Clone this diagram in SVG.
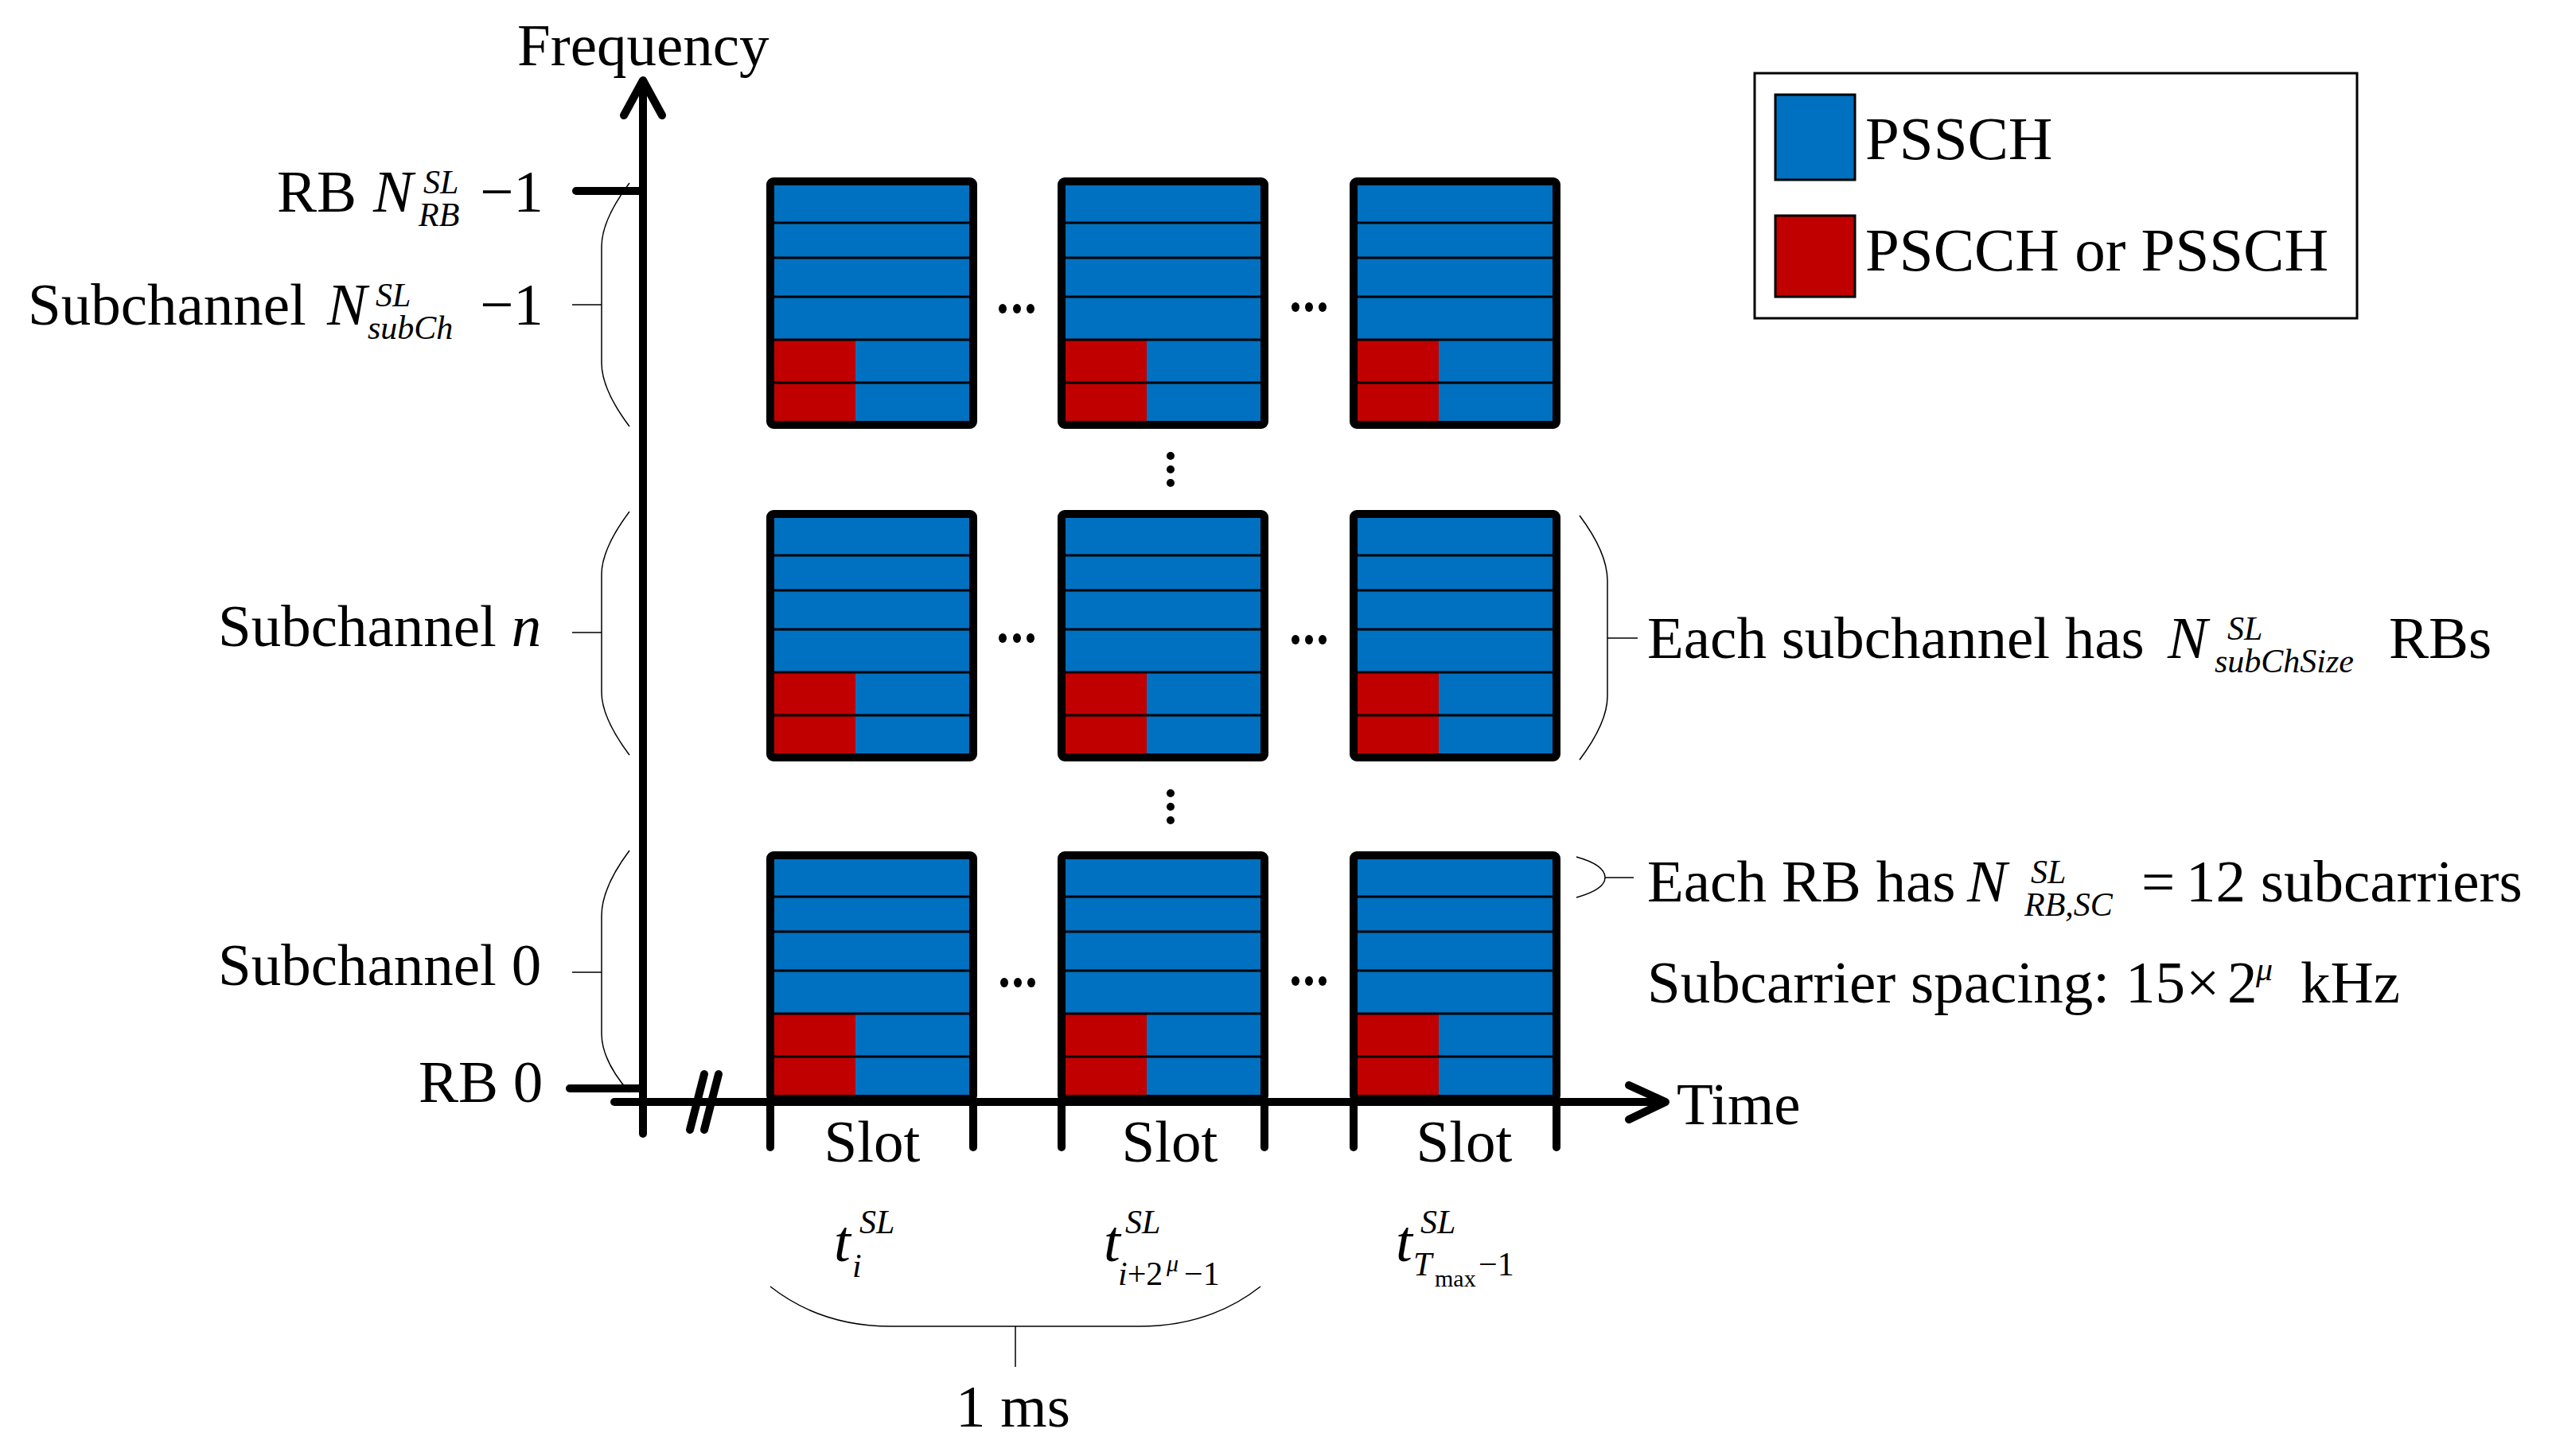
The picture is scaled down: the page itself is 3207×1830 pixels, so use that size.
<svg xmlns="http://www.w3.org/2000/svg" xmlns:xlink="http://www.w3.org/1999/xlink" width="3207" height="1830" viewBox="0 0 3207 1830">
<style>
.t{font-family:"Liberation Serif","Times New Roman",serif;font-size:75px;fill:#000}
.lg{font-size:77px}
.i{font-style:italic}
.s{font-size:42px}
.xs{font-size:30px}
.blue{fill:#0070C0}
.red{fill:#C00000}
.ax{stroke:#000;stroke-width:10;fill:none;stroke-linecap:round;stroke-linejoin:round}
.br{stroke:#000;stroke-width:1.5;fill:none}
.dot{fill:#000}
</style>
<defs>
<g id="box">
<rect class="blue" x="10" y="10" width="245" height="296"/>
<rect class="red" x="10" y="204" width="102" height="102"/>
<g stroke="#000" stroke-width="3">
<line x1="10" y1="57" x2="255" y2="57"/>
<line x1="10" y1="101" x2="255" y2="101"/>
<line x1="10" y1="150" x2="255" y2="150"/>
<line x1="10" y1="204" x2="255" y2="204"/>
<line x1="10" y1="258" x2="255" y2="258"/>
</g>
<rect x="5" y="5" width="255" height="306" rx="4" fill="none" stroke="#000" stroke-width="10"/>
</g>
</defs>
<rect width="3207" height="1830" fill="#fff"/>

<!-- slot/resource boxes -->
<g id="box-top-1"><use xlink:href="#box" x="963" y="223"/></g>
<g id="box-top-2"><use xlink:href="#box" x="1329" y="223"/></g>
<g id="box-top-3"><use xlink:href="#box" x="1696" y="223"/></g>
<g id="box-mid-1"><use xlink:href="#box" x="963" y="641"/></g>
<g id="box-mid-2"><use xlink:href="#box" x="1329" y="641"/></g>
<g id="box-mid-3"><use xlink:href="#box" x="1696" y="641"/></g>
<g id="box-bot-1"><use xlink:href="#box" x="963" y="1070"/></g>
<g id="box-bot-2"><use xlink:href="#box" x="1329" y="1070"/></g>
<g id="box-bot-3"><use xlink:href="#box" x="1696" y="1070"/></g>

<!-- connectors: axes, ticks, braces -->
<g id="connectors">
<line class="ax" x1="808" y1="104" x2="808" y2="1425"/>
<polyline class="ax" points="784,145 808,101 832,145"/>
<line class="ax" x1="772" y1="1385" x2="2090" y2="1385"/>
<polyline class="ax" points="2047,1364 2093,1385 2047,1407"/>
<line class="ax" x1="724" y1="240" x2="808" y2="240" stroke-width="11"/>
<line class="ax" x1="716" y1="1368" x2="808" y2="1368"/>
<line class="ax" x1="885" y1="1350" x2="867" y2="1420" stroke-width="9"/>
<line class="ax" x1="903" y1="1350" x2="885" y2="1420" stroke-width="9"/>
<g class="ax">
<line x1="968" y1="1385" x2="968" y2="1442"/>
<line x1="1223" y1="1385" x2="1223" y2="1442"/>
<line x1="1334" y1="1385" x2="1334" y2="1442"/>
<line x1="1589" y1="1385" x2="1589" y2="1442"/>
<line x1="1701" y1="1385" x2="1701" y2="1442"/>
<line x1="1956" y1="1385" x2="1956" y2="1442"/>
</g>
<path class="br" d="M791,230 C770,258 756,285 756,310 L756,456 C756,481 770,508 791,536 M756,383 H719"/>
<path class="br" d="M791,643 C770,671 756,698 756,722 L756,870 C756,894 770,921 791,949 M756,795 H719"/>
<path class="br" d="M791,1069 C770,1097 756,1124 756,1151 L756,1299 C756,1324 770,1349 791,1373 M756,1222 H719"/>
<path class="br" d="M1985,648 C2006,676 2020,703 2020,730 L2020,875 C2020,900 2006,927 1985,955 M2020,802 H2058"/>
<path class="br" d="M1981,1077 C2006,1084 2017,1093 2017,1103 C2017,1112 2006,1121 1981,1128 M2017,1103 H2053"/>
<path class="br" d="M968,1617 C1010,1650 1060,1667 1120,1667 L1432,1667 C1492,1667 1542,1650 1584,1617 M1276,1667 V1718"/>
</g>

<!-- ellipsis dots -->
<g id="dots">
<ellipse class="dot" cx="1260" cy="388" rx="5" ry="6"/><ellipse class="dot" cx="1278" cy="388" rx="5" ry="6"/><ellipse class="dot" cx="1295" cy="388" rx="5" ry="6"/>
<ellipse class="dot" cx="1628" cy="386" rx="5" ry="6"/><ellipse class="dot" cx="1645" cy="386" rx="5" ry="6"/><ellipse class="dot" cx="1662" cy="386" rx="5" ry="6"/>
<ellipse class="dot" cx="1260" cy="802" rx="5" ry="6"/><ellipse class="dot" cx="1278" cy="802" rx="5" ry="6"/><ellipse class="dot" cx="1295" cy="802" rx="5" ry="6"/>
<ellipse class="dot" cx="1628" cy="804" rx="5" ry="6"/><ellipse class="dot" cx="1645" cy="804" rx="5" ry="6"/><ellipse class="dot" cx="1662" cy="804" rx="5" ry="6"/>
<ellipse class="dot" cx="1262" cy="1235" rx="5" ry="6"/><ellipse class="dot" cx="1279" cy="1235" rx="5" ry="6"/><ellipse class="dot" cx="1296" cy="1235" rx="5" ry="6"/>
<ellipse class="dot" cx="1628" cy="1233" rx="5" ry="6"/><ellipse class="dot" cx="1645" cy="1233" rx="5" ry="6"/><ellipse class="dot" cx="1662" cy="1233" rx="5" ry="6"/>
<ellipse class="dot" cx="1471" cy="573" rx="5" ry="5"/><ellipse class="dot" cx="1471" cy="590" rx="5" ry="5"/><ellipse class="dot" cx="1471" cy="607" rx="5" ry="5"/>
<ellipse class="dot" cx="1471" cy="997" rx="5" ry="5"/><ellipse class="dot" cx="1471" cy="1014" rx="5" ry="5"/><ellipse class="dot" cx="1471" cy="1031" rx="5" ry="5"/>
</g>

<!-- axis labels -->
<g id="label-frequency"><text class="t" x="650" y="82">Frequency</text></g>
<g id="label-time"><text class="t" x="2107" y="1413">Time</text></g>

<g id="label-rb-max">
<text class="t" x="348" y="266">RB</text>
<text class="t i" x="469" y="266">N</text>
<text class="t i s" x="532" y="243">SL</text>
<text class="t i s" x="526" y="284">RB</text>
<text class="t" x="603" y="266">−1</text>
</g>
<g id="label-subch-max">
<text class="t" x="35" y="408">Subchannel</text>
<text class="t i" x="411" y="408">N</text>
<text class="t i s" x="472" y="385">SL</text>
<text class="t i s" x="462" y="426">subCh</text>
<text class="t" x="603" y="408">−1</text>
</g>
<g id="label-subch-n"><text class="t" x="274" y="812">Subchannel <tspan font-style="italic">n</tspan></text></g>
<g id="label-subch-0"><text class="t" x="274" y="1238">Subchannel 0</text></g>
<g id="label-rb-0"><text class="t" x="526" y="1385">RB 0</text></g>

<!-- slot labels -->
<g id="label-slot-1"><text class="t" x="1096" y="1460" text-anchor="middle">Slot</text></g>
<g id="label-slot-2"><text class="t" x="1470" y="1460" text-anchor="middle">Slot</text></g>
<g id="label-slot-3"><text class="t" x="1840" y="1460" text-anchor="middle">Slot</text></g>

<g id="label-t1">
<text class="t i" x="1048" y="1585">t</text>
<text class="t i s" x="1080" y="1550">SL</text>
<text class="t i s" x="1071" y="1605">i</text>
</g>
<g id="label-t2">
<text class="t i" x="1387" y="1585">t</text>
<text class="t i s" x="1414" y="1550">SL</text>
<text class="t s" x="1405" y="1615"><tspan font-style="italic">i</tspan>+2</text>
<text class="t i xs" x="1466" y="1598">μ</text>
<text class="t s" x="1488" y="1615">−1</text>
</g>
<g id="label-t3">
<text class="t i" x="1754" y="1585">t</text>
<text class="t i s" x="1785" y="1550">SL</text>
<text class="t i s" x="1776" y="1603">T</text>
<text class="t xs" x="1803" y="1617">max</text>
<text class="t s" x="1858" y="1603">−1</text>
</g>
<g id="label-1ms"><text class="t" x="1273" y="1793" text-anchor="middle">1 ms</text></g>

<!-- right annotations -->
<g id="label-subch-size">
<text class="t" x="2070" y="827">Each subchannel has</text>
<text class="t i" x="2724" y="827">N</text>
<text class="t i s" x="2799" y="804">SL</text>
<text class="t i s" x="2783" y="845">subChSize</text>
<text class="t" x="3002" y="827">RBs</text>
</g>
<g id="label-rb-size">
<text class="t" x="2070" y="1133">Each RB has</text>
<text class="t i" x="2472" y="1133">N</text>
<text class="t i s" x="2552" y="1110">SL</text>
<text class="t i s" x="2544" y="1151">RB,SC</text>
<text class="t" x="2691" y="1133">=</text>
<text class="t" x="2747" y="1133">12 subcarriers</text>
</g>
<g id="label-scs">
<text class="t" x="2070" y="1260">Subcarrier spacing:</text>
<text class="t" x="2671" y="1260">15</text>
<text class="t" x="2747" y="1260">×</text>
<text class="t" x="2799" y="1260">2</text>
<text class="t i s" x="2835" y="1232">μ</text>
<text class="t" x="2891" y="1260">kHz</text>
</g>

<!-- legend -->
<g id="legend">
<rect x="2205" y="92" width="757" height="308" fill="#fff" stroke="#000" stroke-width="3"/>
<rect class="blue" x="2231" y="119" width="100" height="107" stroke="#000" stroke-width="3"/>
<rect class="red" x="2231" y="271" width="100" height="102" stroke="#000" stroke-width="3"/>
<text class="t lg" x="2344" y="200">PSSCH</text>
<text class="t lg" x="2344" y="340">PSCCH or PSSCH</text>
</g>
</svg>
